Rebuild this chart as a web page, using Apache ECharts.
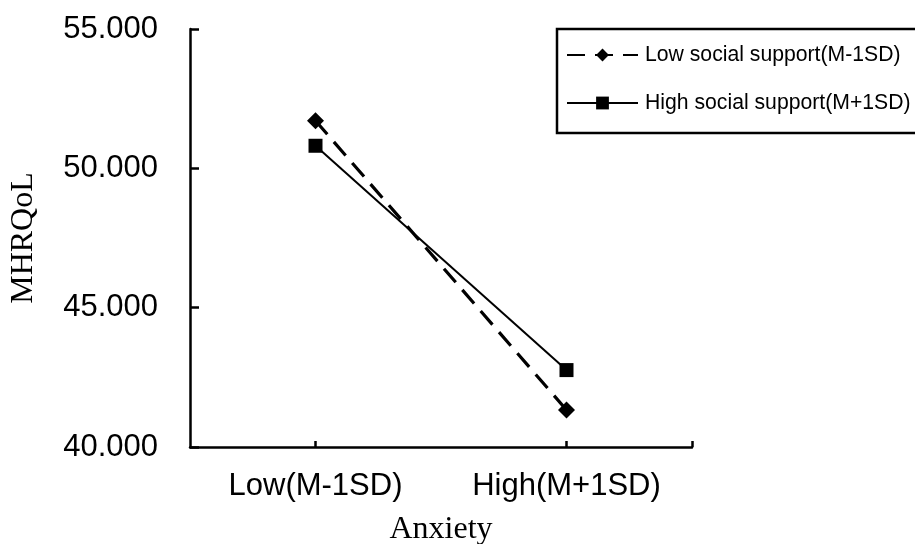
<!DOCTYPE html>
<html>
<head>
<meta charset="utf-8">
<script src="https://cdn.jsdelivr.net/npm/echarts@6/dist/echarts.min.js"></script>
<style>
html,body{margin:0;padding:0;background:#fff;}
#chart{width:915px;height:544px;}
</style>
</head>
<body>
<div id="chart"></div>
<script>
var categories = ['Low(M-1SD)', 'High(M+1SD)'];
var seriesNames = ['Low social support(M-1SD)', 'High social support(M+1SD)'];
var lowSupport = [51.71, 41.33];
var highSupport = [50.81, 42.76];
var yTicks = [40, 45, 50, 55];

function toPoints(vals) {
  return vals.map(function (v, i) { return [i + 1, v]; });
}

var chart = echarts.init(document.getElementById('chart'));
chart.setOption({
  animation: false,
  backgroundColor: '#fff',
  grid: { left: 190, right: 223, top: 29, bottom: 97, containLabel: false, outerBoundsMode: 'none' },
  legend: {
    left: 557, top: 29,
    orient: 'vertical',
    borderColor: '#000', borderWidth: 2.5,
    padding: [14, 30, 18, 9],
    itemWidth: 71, itemHeight: 16, itemGap: 24,
    textStyle: { fontFamily: 'Liberation Sans', fontSize: 21.2, color: '#000', lineHeight: 24, padding: [0, 0, 0, 2] },
    data: seriesNames
  },
  xAxis: {
    type: 'value', min: 0.5, max: 2.5,
    name: 'Anxiety', nameLocation: 'middle', nameGap: 67,
    nameTextStyle: { fontFamily: 'Liberation Serif', fontSize: 32, color: '#000' },
    axisLine: { show: true, lineStyle: { color: '#000', width: 2.5 } },
    axisTick: { show: true, inside: true, length: 6, lineStyle: { color: '#000', width: 2.5 }, customValues: [1, 2, 2.5] },
    axisLabel: {
      customValues: [1, 2], margin: 24,
      fontFamily: 'Liberation Sans', fontSize: 31, color: '#000',
      formatter: function (v) { return categories[Math.round(v) - 1] || ''; }
    },
    splitLine: { show: false }
  },
  yAxis: {
    type: 'value', min: yTicks[0], max: yTicks[yTicks.length - 1], interval: 5,
    name: 'MHRQoL', nameLocation: 'middle', nameGap: 150, nameRotate: 90,
    nameTextStyle: { fontFamily: 'Liberation Serif', fontSize: 32, color: '#000' },
    axisLine: { show: true, lineStyle: { color: '#000', width: 2.5 } },
    axisTick: { show: true, inside: true, length: 9, lineStyle: { color: '#000', width: 2.5 } },
    axisLabel: {
      margin: 32, fontFamily: 'Liberation Sans', fontSize: 31, color: '#000',
      formatter: function (v) { return v.toFixed(3); }
    },
    splitLine: { show: false }
  },
  series: [
    {
      name: seriesNames[0], type: 'line', data: toPoints(lowSupport),
      symbol: 'diamond', symbolSize: [17, 17],
      itemStyle: { color: '#000' },
      lineStyle: { color: '#000', width: 3.2, type: [18, 10] }
    },
    {
      name: seriesNames[1], type: 'line', data: toPoints(highSupport),
      symbol: 'rect', symbolSize: 14,
      itemStyle: { color: '#000' },
      lineStyle: { color: '#000', width: 2, type: 'solid' }
    }
  ]
});
</script>
</body>
</html>
